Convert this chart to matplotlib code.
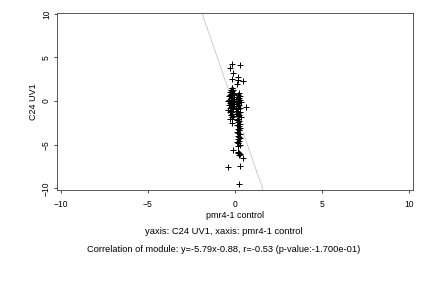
import matplotlib

matplotlib.use("Agg")
import matplotlib.pyplot as plt

plt.rcParams["font.family"] = ["Liberation Sans", "DejaVu Sans"]

# points (pmr4-1 control vs C24 UV1)
x_vals = [
    -0.17, 0.30, -0.31, -0.10, -0.15, 0.17, 0.15, 0.48, 0.09,
    -0.20, -0.15, -0.25, -0.10, -0.18, -0.30, -0.12, -0.22, -0.05, -0.28,
    -0.15, -0.35, -0.08, -0.20, -0.25, -0.12, -0.32, -0.18, -0.05, -0.40,
    -0.22, -0.10, -0.30, -0.15, -0.25, -0.35, -0.08, -0.20, -0.28, -0.12,
    -0.38, -0.22, -0.15, -0.30, -0.18, -0.25, -0.10, -0.20, -0.28, -0.15,
    -0.17,
    0.25, 0.18, 0.30, 0.12, 0.22, 0.08, 0.28, 0.15, 0.35, 0.20,
    0.10, 0.25, 0.63, 0.15, 0.30, 0.05, 0.20, 0.12, 0.28, 0.18,
    0.08, 0.25, 0.15, 0.32, 0.20, 0.10, 0.25, 0.18, 0.28, 0.12,
    0.22, 0.30, 0.16, 0.24, 0.10, 0.20, 0.28, 0.15, 0.22, 0.30,
    0.18, 0.25, 0.12, 0.20, 0.26, 0.18,
    -0.14, 0.18, 0.25, 0.15, 0.30, 0.22, 0.48, -0.43, 0.31, 0.22,
]
y_vals = [
    4.25, 4.10, 3.76, 3.20, 2.50, 2.76, 2.40, 2.30, 1.95,
    1.55, 1.45, 1.30, 1.25, 1.10, 1.00, 0.95, 0.85, 0.80, 0.70,
    0.65, 0.55, 0.50, 0.45, 0.30, 0.25, 0.15, 0.10, 0.05, 0.00,
    -0.05, -0.15, -0.20, -0.30, -0.40, -0.50, -0.55, -0.65, -0.80, -0.90,
    -1.00, -1.10, -1.20, -1.30, -1.45, -1.60, -1.70, -1.85, -2.00, -2.10,
    -2.50,
    0.90, 0.70, 0.60, 0.45, 0.30, 0.20, 0.10, 0.00, -0.10, -0.20,
    -0.35, -0.45, -0.65, -0.60, -0.75, -0.85, -0.95, -1.10, -1.20, -1.35,
    -1.50, -1.60, -1.75, -1.85, -2.00, -2.15, -2.30, -2.45, -2.60, -2.75,
    -2.90, -3.05, -3.20, -3.35, -3.50, -3.65, -3.80, -3.95, -4.10, -4.25,
    -4.40, -4.55, -4.70, -4.85, -5.00, -5.20,
    -5.60, -5.80, -5.90, -6.00, -6.10, -6.20, -6.50, -7.60, -7.50, -9.50,
]

fit_slope = -5.79
fit_intercept = -0.88
x_ticks = [-10, -5, 0, 5, 10]
y_ticks = [-10, -5, 0, 5, 10]

fig = plt.figure(figsize=(6, 4), dpi=72)
ax = fig.add_axes([57 / 432, 1 - 190 / 288, 356 / 432, 177 / 288])

ax.axline((0, fit_intercept), slope=fit_slope, color="#c4c4c4", lw=0.8, zorder=1)
ax.plot(x_vals, y_vals, ls="none", marker="+", ms=5.5, mew=1.0, color="black", zorder=2)

ax.set_xlim(-10.22, 10.22)
ax.set_ylim(-10.2, 10.1)
ax.set_xticks(x_ticks)
ax.set_yticks(y_ticks)
ax.tick_params(labelsize=8.5, length=3, width=0.7)
ax.tick_params(axis="x", pad=7)
ax.tick_params(axis="y", pad=3)
for lbl in ax.get_yticklabels():
    lbl.set_rotation(90)
    lbl.set_va("center")
for sp in ax.spines.values():
    sp.set_linewidth(0.8)
    sp.set_color("#333333")

ax.set_xlabel("pmr4-1 control", fontsize=9, labelpad=2)
ax.set_ylabel("C24 UV1", fontsize=9, labelpad=4)

fig.text(224 / 432, 1 - 231 / 288, "yaxis: C24 UV1, xaxis: pmr4-1 control",
         ha="center", va="center", fontsize=9.4)
fig.text(224 / 432, 1 - 249 / 288,
         "Correlation of module: y=-5.79x-0.88, r=-0.53 (p-value:-1.700e-01)",
         ha="center", va="center", fontsize=9.2)

fig.savefig("out.png", dpi=72)
